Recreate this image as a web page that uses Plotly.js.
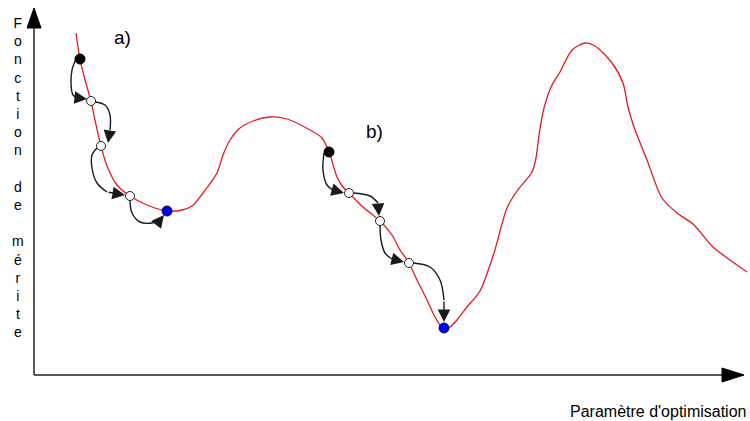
<!DOCTYPE html>
<html>
<head>
<meta charset="utf-8">
<script src="https://cdn.plot.ly/plotly-3.0.1.min.js"></script>
<style>html,body{margin:0;padding:0;background:#fff;}#chart{width:750px;height:421px;}</style>
</head>
<body>
<div id="chart"></div>
<script>
// Merit function curve (parameter, value)
const curveX = [76,80,85,91,95,101,107,117,130,147,167,182,192,203,217,223,230,240,253,270,287,310,322,329,332,337,343,349,363,380,392,400,409,417,427,434,440,445,450,457,467,480,494,507,517,532,536,539,544,552,560,572,585,595,612,623,628,634,647,662,677,693,713,730,747];
const curveY = [388,362,341,320,301,275,255,236,225,216,210,211,215,228,248,266,281,293,300,304,302,291,283,269,260,244,234,228,214,200,186,171,158,141,121,106,96,92,94,101,114,130,168,213,230,249,263,286,313,336,349,371,378,375,358,338,314,294,261,223,208,197,174,161,149];

// Iterates of descent a) and b)
const startX = [80, 329];
const startY = [362, 269];
const stepX = [91, 101, 130, 349, 380, 409];
const stepY = [320, 275, 225, 228, 200, 158];
const endX = [167, 444];
const endY = [210, 93];

// Curved step arrows (each ends at its arrow tip)
const arrowPathsX = [
  [76,72,71,73,78,87],
  [95,105,110,110,108],
  [97,92,92,97,107,125],
  [130,132,140,152,160,164],
  [324,323,327,333,344],
  [353,370,378,379],
  [380,381,385,392,404],
  [413,430,440,444,444]
];
const arrowPathsY = [
  [362,351,338,326,323,322],
  [319,316,306,291,278],
  [273,266,253,238,229,226],
  [221,208,199,198,201,206],
  [268,251,236,231,228],
  [228,225,218,205],
  [196,181,168,162,159],
  [158,154,141,121,99]
];

// Texts
const yTitleLetters = ["F","o","n","c","t","i","o","n"," ","d","e"," ","m","é","r","i","t","e"];
const xTitle = "Paramètre d'optimisation";
const labels = ["a)", "b)"];
const labelX = [122, 374];
const labelY = [384, 290];

const FONT = "Liberation Sans, Arial, Helvetica, sans-serif";
const ARROWCOL = "#1a1a1a";

const traces = [];
traces.push({x: curveX, y: curveY, mode: "lines", type: "scatter",
  line: {color: "#e8191c", width: 1.3, shape: "spline", smoothing: 0.8}, hoverinfo: "skip"});

const annotations = [];
arrowPathsX.forEach((xs, i) => {
  const ys = arrowPathsY[i];
  const n = xs.length;
  traces.push({x: xs.slice(0, n - 1), y: ys.slice(0, n - 1), mode: "lines", type: "scatter",
    line: {color: ARROWCOL, width: 1.4, shape: "spline", smoothing: 1}, hoverinfo: "skip"});
  annotations.push({x: xs[n - 1], y: ys[n - 1], ax: xs[n - 2], ay: ys[n - 2],
    xref: "x", yref: "y", axref: "x", ayref: "y", text: "", showarrow: true,
    arrowhead: 2, arrowsize: 1.8, arrowwidth: 1.4, arrowcolor: ARROWCOL, standoff: 0});
});

traces.push({x: stepX, y: stepY, mode: "markers", type: "scatter",
  marker: {size: 9, color: "#ffffff", line: {color: "#222", width: 1}}, hoverinfo: "skip"});
traces.push({x: startX, y: startY, mode: "markers", type: "scatter",
  marker: {size: 10, color: "#000000", line: {color: "#000", width: 1}}, hoverinfo: "skip"});
traces.push({x: endX, y: endY, mode: "markers", type: "scatter",
  marker: {size: 10, color: "#0000f0", line: {color: "#101040", width: 1}}, hoverinfo: "skip"});

labels.forEach((t, i) => {
  annotations.push({x: labelX[i], y: labelY[i], xref: "x", yref: "y", text: t, showarrow: false,
    xanchor: "center", yanchor: "middle", font: {family: FONT, size: 19, color: "#000"}});
});
annotations.push({x: 18, y: 244, xref: "x", yref: "y", text: yTitleLetters.join("<br>"), showarrow: false,
  xanchor: "center", yanchor: "middle", align: "center", font: {family: FONT, size: 14, color: "#000"}});
annotations.push({x: 748, y: 10, xref: "x", yref: "y", text: xTitle, showarrow: false,
  xanchor: "right", yanchor: "middle", font: {family: FONT, size: 16, color: "#000"}});

const shapes = [
  {type: "line", xref: "x", yref: "y", x0: 34, y0: 46, x1: 34, y1: 395, line: {color: "#222", width: 1.5}},
  {type: "line", xref: "x", yref: "y", x0: 34, y0: 46, x1: 724, y1: 46, line: {color: "#222", width: 1.5}},
  {type: "path", xref: "x", yref: "y", path: "M27,393 L41,393 L34,413 Z", fillcolor: "#000", line: {color: "#000", width: 1}},
  {type: "path", xref: "x", yref: "y", path: "M722,53 L722,39 L744,46 Z", fillcolor: "#000", line: {color: "#000", width: 1}}
];

const layout = {
  width: 750, height: 421,
  margin: {l: 0, r: 0, t: 0, b: 0},
  paper_bgcolor: "#fff", plot_bgcolor: "#fff",
  showlegend: false,
  xaxis: {range: [0, 750], visible: false, fixedrange: true},
  yaxis: {range: [0, 421], visible: false, fixedrange: true},
  annotations: annotations,
  shapes: shapes
};
Plotly.newPlot("chart", traces, layout, {staticPlot: true, displayModeBar: false});
</script>
</body>
</html>
